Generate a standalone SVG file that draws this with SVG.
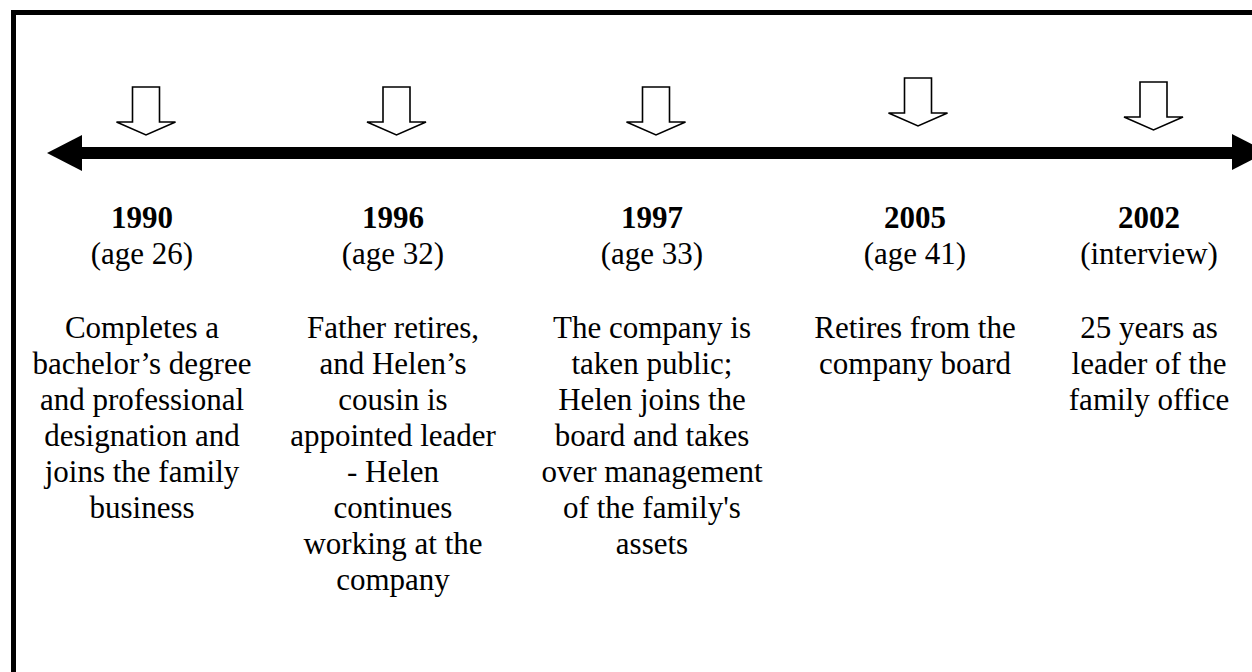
<svg xmlns="http://www.w3.org/2000/svg" width="1252" height="672" viewBox="0 0 1252 672">
  <style>
    .frame { fill: none; stroke: #000; stroke-width: 5; }
    .axis { stroke: #000; stroke-width: 12; }
    .head { fill: #000; }
    .pointer { fill: #fff; stroke: #000; stroke-width: 1.6; stroke-linejoin: miter; }
    text { font-family: "Liberation Serif", "Times New Roman", serif; font-size: 31px; fill: #000; text-anchor: middle; }
    .year { font-weight: bold; }
  </style>
  <defs>
    <!-- hollow down-pointing block arrow, origin at the top centre of the stem -->
    <path id="pointer" d="M -13.5 0 L 13.5 0 L 13.5 35 L 29.5 35 L 0 48 L -29.5 35 L -13.5 35 Z"/>
  </defs>

  <rect class="frame" x="13.5" y="12.5" width="1300" height="700"/>

  <g id="connectors">
    <line class="axis" x1="80" y1="153" x2="1234" y2="153"/>
    <polygon class="head" points="47,153 82,135 82,171"/>
    <polygon class="head" points="1267,152 1232,134 1232,170"/>
  </g>

  <g id="event-1990">
    <use href="#pointer" class="pointer" x="146" y="87"/>
    <text class="year" x="142" y="228">1990</text>
    <text x="142" y="264">(age 26)</text>
    <text x="142" y="338">Completes a</text>
    <text x="142" y="374">bachelor’s degree</text>
    <text x="142" y="410">and professional</text>
    <text x="142" y="446">designation and</text>
    <text x="142" y="482">joins the family</text>
    <text x="142" y="518">business</text>
  </g>

  <g id="event-1996">
    <use href="#pointer" class="pointer" x="396.5" y="87"/>
    <text class="year" x="393" y="228">1996</text>
    <text x="393" y="264">(age 32)</text>
    <text x="393" y="338">Father retires,</text>
    <text x="393" y="374">and Helen’s</text>
    <text x="393" y="410">cousin is</text>
    <text x="393" y="446">appointed leader</text>
    <text x="393" y="482">- Helen</text>
    <text x="393" y="518">continues</text>
    <text x="393" y="554">working at the</text>
    <text x="393" y="590">company</text>
  </g>

  <g id="event-1997">
    <use href="#pointer" class="pointer" x="656" y="87"/>
    <text class="year" x="652" y="228">1997</text>
    <text x="652" y="264">(age 33)</text>
    <text x="652" y="338">The company is</text>
    <text x="652" y="374">taken public;</text>
    <text x="652" y="410">Helen joins the</text>
    <text x="652" y="446">board and takes</text>
    <text x="652" y="482">over management</text>
    <text x="652" y="518">of the family's</text>
    <text x="652" y="554">assets</text>
  </g>

  <g id="event-2005">
    <use href="#pointer" class="pointer" x="918" y="78"/>
    <text class="year" x="915" y="228">2005</text>
    <text x="915" y="264">(age 41)</text>
    <text x="915" y="338">Retires from the</text>
    <text x="915" y="374">company board</text>
  </g>

  <g id="event-2002">
    <use href="#pointer" class="pointer" x="1153.5" y="82"/>
    <text class="year" x="1149" y="228">2002</text>
    <text x="1149" y="264">(interview)</text>
    <text x="1149" y="338">25 years as</text>
    <text x="1149" y="374">leader of the</text>
    <text x="1149" y="410">family office</text>
  </g>
</svg>
